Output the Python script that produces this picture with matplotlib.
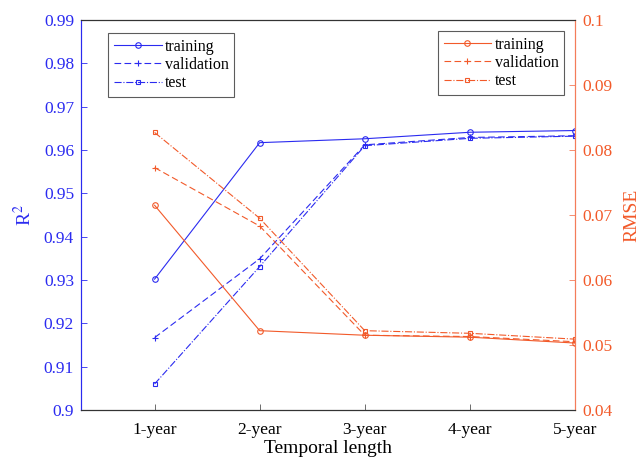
import matplotlib
matplotlib.use("Agg")
import matplotlib.pyplot as plt

plt.rcParams['font.family'] = ['Liberation Serif', 'DejaVu Serif']
plt.rcParams['mathtext.fontset'] = 'stix'

# Data
years = [1, 2, 3, 4, 5]
year_labels = ['1-year', '2-year', '3-year', '4-year', '5-year']
r2_train = [0.9302, 0.9617, 0.9626, 0.9641, 0.9645]
r2_val = [0.9167, 0.9349, 0.9612, 0.9629, 0.9633]
r2_test = [0.9060, 0.9331, 0.9610, 0.9627, 0.9632]
rmse_train = [0.0715, 0.0522, 0.0515, 0.0512, 0.0503]
rmse_val = [0.0773, 0.0683, 0.0515, 0.0513, 0.0505]
rmse_test = [0.0827, 0.0695, 0.0522, 0.0518, 0.0509]

blue = '#2b2bf0'
orange = '#f25a2a'
orange_ax = '#f47c5a'

fig = plt.figure(figsize=(6.44, 4.62), dpi=100)
ax = fig.add_axes([0.1258, 0.1126, 0.767, 0.844])
ax2 = ax.twinx()

lw = 0.8
ms = 4
ax.plot(years, r2_train, '-', color=blue, lw=lw, marker='o', ms=ms, mfc='none', mew=0.8, label='training')
ax.plot(years, r2_val, '--', color=blue, lw=lw, marker='+', ms=ms + 1, mew=0.8, label='validation', dashes=(6, 3))
ax.plot(years, r2_test, '-.', color=blue, lw=lw, marker='s', ms=ms - 0.5, mfc='none', mew=0.8, label='test')

ax2.plot(years, rmse_train, '-', color=orange, lw=lw, marker='o', ms=ms, mfc='none', mew=0.8, label='training')
ax2.plot(years, rmse_val, '--', color=orange, lw=lw, marker='+', ms=ms + 1, mew=0.8, label='validation', dashes=(6, 3))
ax2.plot(years, rmse_test, '-.', color=orange, lw=lw, marker='s', ms=ms - 0.5, mfc='none', mew=0.8, label='test')

ax.set_xlim(0.3, 5)
ax.set_ylim(0.9, 0.99)
ax2.set_ylim(0.04, 0.1)
ax.set_xticks(years)
ax.set_xticklabels(year_labels)
ax.set_yticks([0.9 + 0.01 * i for i in range(10)])
ax.set_yticklabels(['0.9'] + ['%.2f' % (0.9 + 0.01 * i) for i in range(1, 10)])
ax2.set_yticks([0.04, 0.05, 0.06, 0.07, 0.08, 0.09, 0.1])
ax2.set_yticklabels(['0.04', '0.05', '0.06', '0.07', '0.08', '0.09', '0.1'])

ax.tick_params(axis='both', direction='in', labelsize=12.5, length=4, width=0.6)
ax.tick_params(axis='y', colors=blue, pad=5)
ax.tick_params(axis='x', colors='#555555', labelcolor='black', pad=9)
ax2.tick_params(axis='y', direction='in', labelsize=12.5, length=4, width=0.6, colors=orange_ax,
                labelcolor=orange, pad=5)
ax.tick_params(axis='x', top=False)

for a in (ax, ax2):
    for s in a.spines.values():
        s.set_linewidth(0.8)
ax2.spines['left'].set_color(blue)
ax2.spines['right'].set_color(orange_ax)
ax2.spines['top'].set_color('#333333')
ax2.spines['bottom'].set_color('#333333')
ax.spines['left'].set_color(blue)
ax.spines['right'].set_color(orange_ax)

ax.set_ylabel('R$^2$', color=blue, fontsize=14, labelpad=6)
ax2.set_ylabel('RMSE', color=orange, fontsize=14, labelpad=8)
ax.set_xlabel('Temporal length', fontsize=14, labelpad=1)

leg1 = ax.legend(loc='upper left', bbox_to_anchor=(0.055, 0.967), fontsize=11.5, frameon=True,
                 fancybox=False, edgecolor='#333333', handlelength=3.0, borderpad=0.35,
                 labelspacing=0.15, handletextpad=0.2, borderaxespad=0)
leg1.get_frame().set_linewidth(0.8)
leg2 = ax2.legend(loc='upper right', bbox_to_anchor=(0.978, 0.972), fontsize=11.5, frameon=True,
                  fancybox=False, edgecolor='#333333', handlelength=3.0, borderpad=0.35,
                  labelspacing=0.15, handletextpad=0.2, borderaxespad=0)
leg2.get_frame().set_linewidth(0.8)

fig.savefig('out.png', dpi=100)
